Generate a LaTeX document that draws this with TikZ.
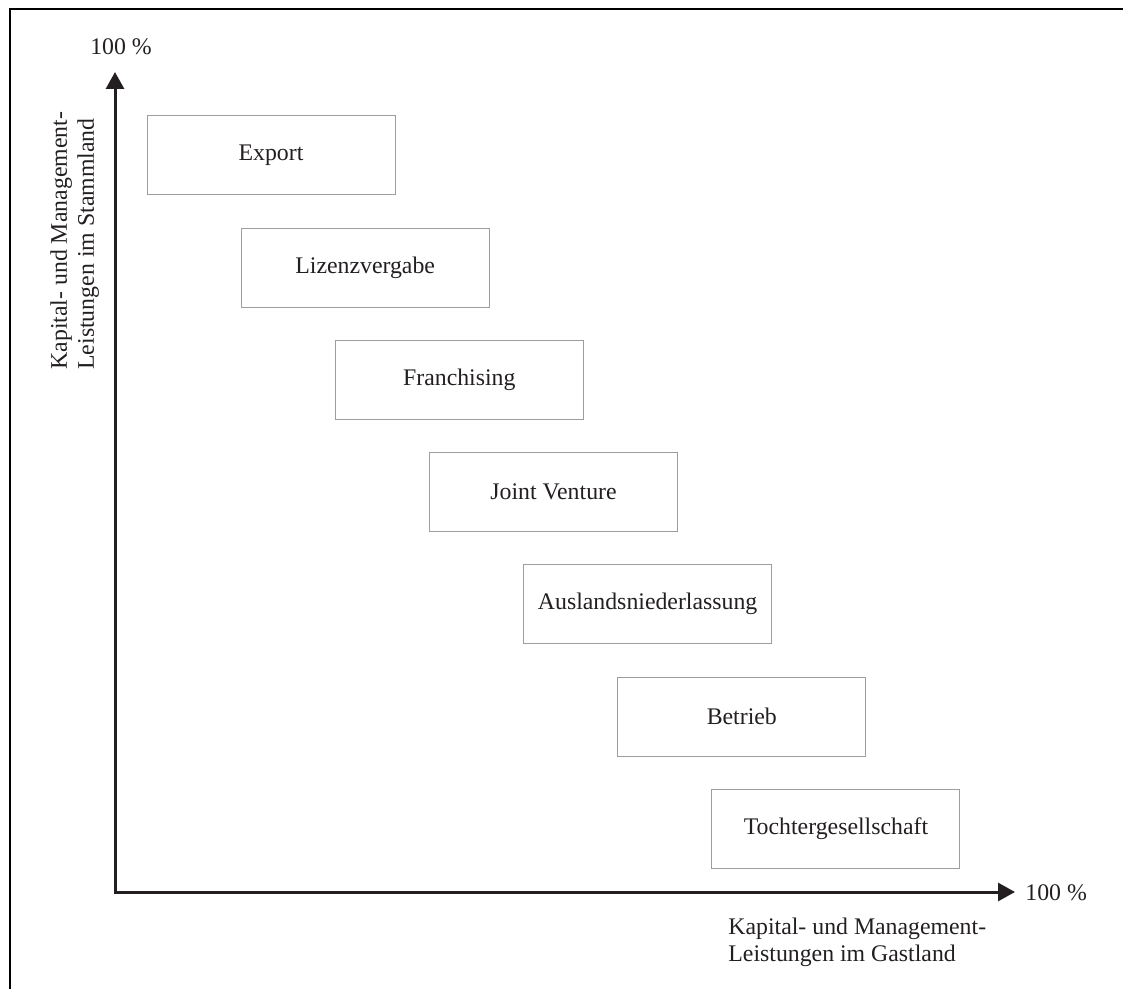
\documentclass[tikz,border=0pt]{standalone}
\usepackage{fontspec}
\setmainfont{Liberation Serif}
\usepackage{tikz}
\usetikzlibrary{arrows.meta,positioning}
\definecolor{ink}{HTML}{231F20}
\definecolor{boxgray}{HTML}{9D9D9D}

\begin{document}
\begin{tikzpicture}[x=0.5pt,y=-0.5pt,>={Triangle[length=8.5pt,width=9pt]},
font=\fontsize{11.9}{13.5}\selectfont,text=ink,
form/.style={draw=boxgray,line width=0.5pt,minimum width=124pt,minimum height=39.5pt,inner sep=0pt},
axis/.style={draw=ink,line width=1.5pt},
lbl/.style={inner sep=0pt,align=left}]
\useasboundingbox (0,0) rectangle (1123,989);
\draw[line width=1.2pt] (1140,9) -- (10,9) -- (10,1000);
% axes
\coordinate (o) at (115,892);
\coordinate (ytip) at (115,72);
\coordinate (xtip) at (1015,892);
\draw[axis,<->] (ytip) -- (o) -- (xtip);
\node[lbl,anchor=base] (ymax) at (121,55) {100 \%};
\node[lbl,anchor=base west] (xmax) at (1025,900) {100 \%};
\node[lbl,rotate=90,anchor=north west] (ylab) at (50,370) {Kapital- und Management-\\Leistungen im Stammland};
\node[lbl,anchor=north west] (xlab) at (728,918) {Kapital- und Management-\\Leistungen im Gastland};
% forms of entry
\node[form] (export) at (271,155.5) {Export};
\node[form,below=16.1pt of export,xshift=47.08pt] (lizenz) {Lizenzvergabe};
\node[form,below=16.1pt of lizenz,xshift=47.08pt] (franch) {Franchising};
\node[form,below=16.1pt of franch,xshift=47.08pt] (jv) {Joint Venture};
\node[form,below=16.1pt of jv,xshift=47.08pt] (ausland) {Auslandsniederlassung};
\node[form,below=16.1pt of ausland,xshift=47.08pt] (betrieb) {Betrieb};
\node[form,below=16.1pt of betrieb,xshift=47.08pt] (tochter) {Tochtergesellschaft};
\end{tikzpicture}
\end{document}
